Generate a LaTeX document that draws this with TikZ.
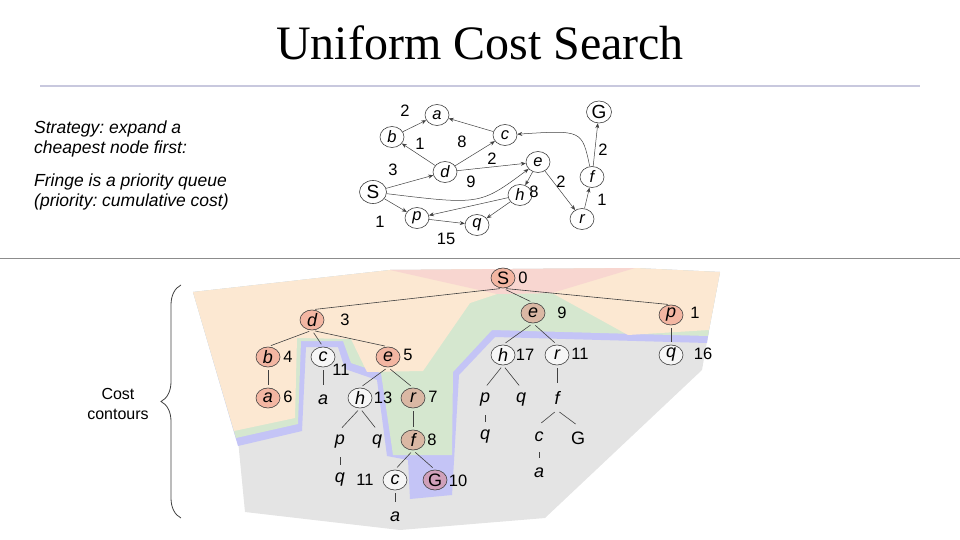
\documentclass[tikz,border=0pt]{standalone}
\usepackage{fontspec}
\setmainfont{Liberation Sans}
\newfontfamily\titlefont{Liberation Serif}
\usetikzlibrary{shapes.geometric,arrows.meta,decorations.pathreplacing}
\definecolor{salmon}{RGB}{243,182,162}
\definecolor{tan}{RGB}{218,184,164}
\definecolor{gpurple}{RGB}{208,160,186}
\definecolor{whitish}{RGB}{246,246,246}
\definecolor{cpink}{RGB}{248,214,208}
\definecolor{corange}{RGB}{252,232,210}
\definecolor{cgreen}{RGB}{213,231,207}
\definecolor{cblue}{RGB}{196,196,246}
\definecolor{cgray}{RGB}{228,228,228}
\definecolor{rulelav}{RGB}{200,200,222}
\definecolor{linegray}{RGB}{64,64,64}
\tikzset{
  gnode/.style={ellipse, draw=linegray, line width=0.6pt, fill=white, minimum width=24pt, minimum height=21pt, inner sep=0pt, font=\fontsize{16.5}{16.5}\selectfont\itshape},
  gbig/.style={gnode, minimum width=27pt, minimum height=23pt, font=\fontsize{19}{19}\selectfont\upshape},
  garrow/.style={draw=linegray, line width=0.5pt, -{Stealth[length=5pt,width=4pt]}},
  elab/.style={font=\fontsize{16.5}{16.5}\selectfont, inner sep=0pt},
  tnode/.style={ellipse, draw=linegray, line width=0.6pt, fill=whitish, minimum width=24pt, minimum height=20pt, inner sep=0pt, font=\fontsize{18}{18}\selectfont\itshape},
  tsal/.style={tnode, fill=salmon},
  ttan/.style={tnode, fill=tan},
  tlet/.style={inner sep=0pt, minimum height=24pt, font=\fontsize{18}{18}\selectfont\itshape},
  tlab/.style={inner sep=0pt, font=\fontsize{16.5}{16.5}\selectfont},
  tedge/.style={draw=linegray, line width=0.6pt, shorten <=3pt, shorten >=3pt},
  sidetext/.style={anchor=base west, inner sep=0pt, font=\fontsize{17.5}{17.5}\selectfont\itshape}
}
\frenchspacing
\begin{document}
\begin{tikzpicture}[x=1pt,y=-1pt]
\useasboundingbox (0,0) rectangle (960,540);
% title and rules
\node[inner sep=0pt, anchor=base, font=\fontsize{48}{48}\selectfont\titlefont] (title) at (480,60) {Uniform Cost Search};
\draw[rulelav, line width=1.5pt] (40,86) -- (920,86);
\draw[black!45, line width=1pt] (0,258) -- (960,258);
% side text
\node[sidetext] (t1) at (34,134) {Strategy: expand a};
\node[sidetext] (t2) at (34,154) {cheapest node first:};
\node[sidetext] (t3) at (34,186) {Fringe is a priority queue};
\node[sidetext] (t4) at (34,206) {(priority: cumulative cost)};
% ---------- state graph ----------
\node[gnode] (a) at (437,115) {a};
\node[gnode] (b) at (392,137) {b};
\node[gnode] (c) at (505,135) {c};
\node[gnode] (d) at (445,172) {d};
\node[gnode] (e) at (538,162) {e};
\node[gbig]  (S) at (373,192) {S};
\node[gnode] (h) at (520,195) {h};
\node[gnode] (p) at (417,218) {p};
\node[gnode] (q) at (477,225) {q};
\node[gnode] (r) at (582,219) {r};
\node[gnode] (f) at (592,177) {f};
\node[gbig, minimum width=25pt, minimum height=22pt] (G) at (599,112) {G};
\draw[garrow] (b) -- (a);
\draw[garrow] (c) -- (a);
\draw[garrow] (d) -- (b);
\draw[garrow] (d) -- (c);
\draw[garrow] (S) -- (d);
\draw[garrow] (d) -- (e);
\draw[garrow] (S) .. controls (480,205) .. (e);
\draw[garrow] (e) -- (h);
\draw[garrow] (e) -- (r);
\draw[garrow] (S) -- (p);
\draw[garrow] (h) -- (p);
\draw[garrow] (h) -- (q);
\draw[garrow] (p) -- (q);
\draw[garrow] (r) -- (f);
\draw[garrow] (f) -- (G);
\draw[garrow] (f) .. controls (582,130) .. (c);
\node[elab] (l1) at (405,111) {2};
\node[elab] (l2) at (420,144) {1};
\node[elab] (l3) at (462,142) {8};
\node[elab] (l4) at (393,170) {3};
\node[elab] (l5) at (492,159) {2};
\node[elab] (l6) at (471,182) {9};
\node[elab] (l7) at (534,192) {8};
\node[elab] (l8) at (561,182) {2};
\node[elab] (l9) at (380,222) {1};
\node[elab] (l10) at (446,239) {15};
\node[elab] (l11) at (602,200) {1};
\node[elab] (l12) at (603,150) {2};
% ---------- cost contours ----------
\fill[cgray] (238,440) -- (245,512) -- (400,530) -- (545,518) -- (702,370) -- (709,330) -- (500,300) -- (307,340) -- (236,436) -- cycle;
\fill[cblue] (238,446) -- (302,431) -- (306,347) -- (338,347) -- (345,369) -- (377,380) -- (387,456) -- (408,460) -- (410,499) -- (452,495) -- (459,375) -- (495,337) -- (707,343) -- (709,330) -- (720,272) -- (635,268) -- (390,270) -- (193,292) -- cycle;
\fill[cgreen] (236,438) -- (298,424) -- (301,341) -- (343,341) -- (351,363) -- (381,373) -- (393,455) -- (452,455) -- (453,372) -- (492,330) -- (708,336) -- (709,330) -- (720,272) -- (635,268) -- (390,270) -- (193,292) -- cycle;
\fill[corange] (193,292) -- (390,270) -- (635,268) -- (720,272) -- (709,330) -- (628,335) -- (552,293) -- (497,294) -- (470,303) -- (423,371) -- (367,372) -- (351,339) -- (297,338) -- (295,418) -- (234,431) -- cycle;
\fill[cpink] (390,270) -- (635,268) -- (552,293) -- (497,294) -- cycle;
% brace
\draw[linegray, line width=0.8pt, decorate, decoration={brace, amplitude=20pt}] (181,518) -- (181,285);
\node[font=\fontsize{16}{20}\selectfont, align=center, inner sep=0pt] (cc) at (118,404) {Cost\\contours};
% ---------- search tree ----------
\node[tsal] (tS) at (503,278) {\upshape S};
\node[tsal] (td) at (312,320) {d};
\node[ttan] (te9) at (533,313) {e};
\node[tsal] (tp1) at (671,315) {p};
\node[tsal] (tb) at (268,357) {b};
\node[tnode] (tc) at (323,357) {c};
\node[tsal] (te5) at (388,357) {e};
\node[tsal] (ta6) at (268,398) {a};
\node[tlet] (la) at (323,400) {a};
\node[tnode] (th13) at (360,398) {h};
\node[ttan] (tr7) at (413,398) {r};
\node[tlet] (lp) at (340,442) {p};
\node[tlet] (lq) at (377,442) {q};
\node[ttan] (tf8) at (413,440) {f};
\node[tlet] (lq2) at (340,480) {q};
\node[tnode] (tc2) at (395,480) {c};
\node[tnode, fill=gpurple, draw=black!75] (tG) at (435,480) {\upshape G};
\node[tlet] (la2) at (395,517) {a};
\node[tnode] (th17) at (503,355) {h};
\node[tnode] (tr11) at (557,355) {r};
\node[tnode] (tq16) at (671,355) {q};
\node[tlet] (lp3) at (485,400) {p};
\node[tlet] (lq3) at (521,400) {q};
\node[tlet] (lf) at (557,398) {f};
\node[tlet] (lq4) at (485,437) {q};
\node[tlet] (lc) at (539,437) {c};
\node[tlet] (lG) at (578,438) {\upshape G};
\node[tlet] (la3) at (539,473) {a};
% tree edges
\draw[tedge] (tS.south) -- (td.north);
\draw[tedge] (tS.south) -- (te9.north);
\draw[tedge] (tS.south) -- (tp1.north);
\draw[tedge] (td.south) -- (tb.north);
\draw[tedge] (td.south) -- (tc.north);
\draw[tedge] (td.south) -- (te5.north);
\draw[tedge] (tb.south) -- (ta6.north);
\draw[tedge] (tc.south) -- (la.north);
\draw[tedge] (te5.south) -- (th13.north);
\draw[tedge] (te5.south) -- (tr7.north);
\draw[tedge] (th13.south) -- (lp.north);
\draw[tedge] (th13.south) -- (lq.north);
\draw[tedge] (lp.south) -- (lq2.north);
\draw[tedge] (tr7.south) -- (tf8.north);
\draw[tedge] (tf8.south) -- (tc2.north);
\draw[tedge] (tf8.south) -- (tG.north);
\draw[tedge] (tc2.south) -- (la2.north);
\draw[tedge] (te9.south) -- (th17.north);
\draw[tedge] (te9.south) -- (tr11.north);
\draw[tedge] (th17.south) -- (lp3.north);
\draw[tedge] (th17.south) -- (lq3.north);
\draw[tedge] (lp3.south) -- (lq4.north);
\draw[tedge] (tr11.south) -- (lf.north);
\draw[tedge] (lf.south) -- (lc.north);
\draw[tedge] (lf.south) -- (lG.north);
\draw[tedge] (lc.south) -- (la3.north);
\draw[tedge] (tp1.south) -- (tq16.north);
% cost labels
\node[tlab] (n0) at (523,278) {0};
\node[tlab] (n3) at (345,320) {3};
\node[tlab] (n9) at (562,313) {9};
\node[tlab] (n1) at (695,313) {1};
\node[tlab] (n4) at (288,357) {4};
\node[tlab] (n11a) at (341,370) {11};
\node[tlab] (n5) at (408,355) {5};
\node[tlab] (n6) at (288,397) {6};
\node[tlab] (n13) at (383,398) {13};
\node[tlab] (n7) at (433,397) {7};
\node[tlab] (n8) at (432,440) {8};
\node[tlab] (n11b) at (365,480) {11};
\node[tlab] (n10) at (458,481) {10};
\node[tlab] (n17) at (525,355) {17};
\node[tlab] (n11c) at (580,354) {11};
\node[tlab] (n16) at (703,354) {16};
\end{tikzpicture}
\end{document}
